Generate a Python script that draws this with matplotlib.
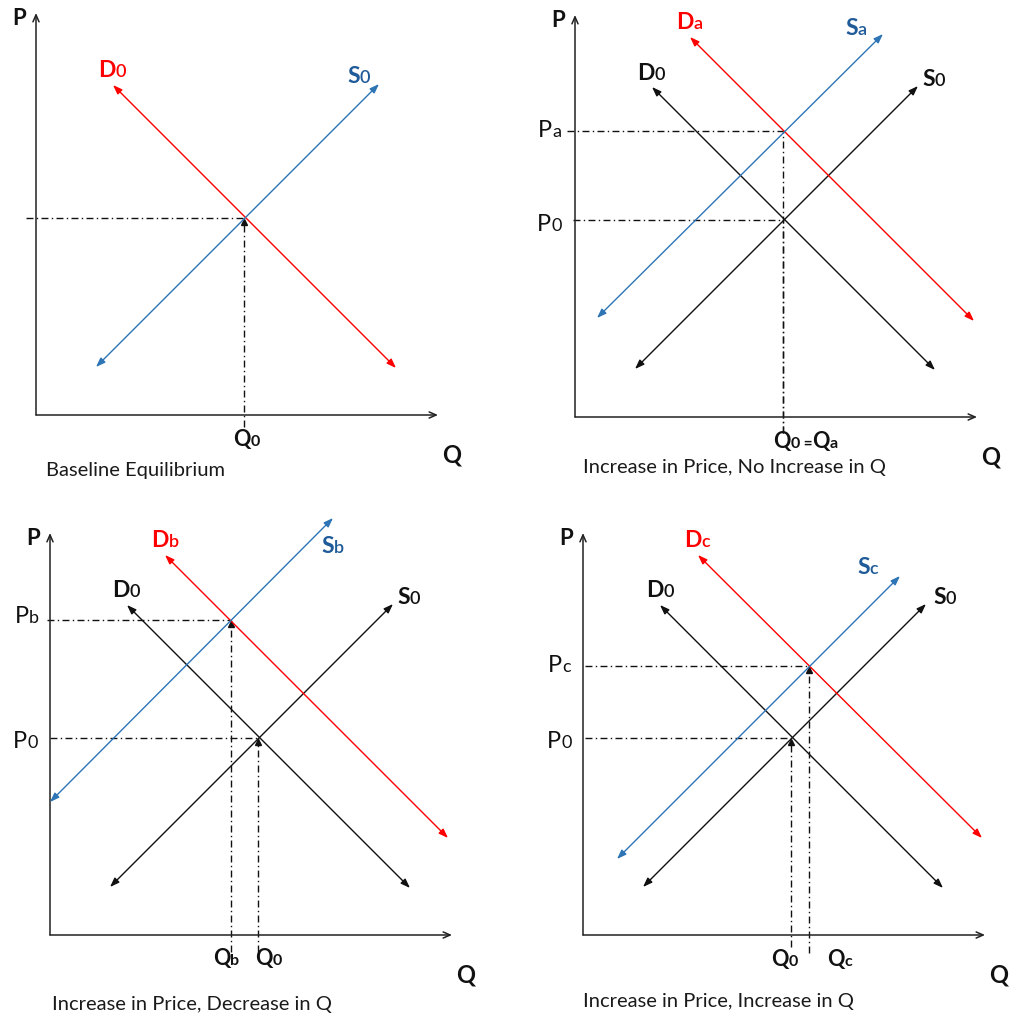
import matplotlib
matplotlib.use("Agg")
import matplotlib.pyplot as plt

plt.rcParams['font.family'] = ['Lato', 'DejaVu Sans']

# Curve endpoints (Q, P) shared by every panel
D0_Q = [77, 360]
D0_P = [330, 47]
S0_Q = [60, 343]
S0_P = [48, 331]

# Shifted curves for panels a, b, c
DA_Q, DA_P = [115, 399], [380, 96]
SA_Q, SA_P = [22, 308], [99, 383]
DB_Q, DB_P = [115, 398], [380, 97]
SB_Q, SB_P = [0, 283], [133, 417]
DC_Q, DC_P = [115, 399], [380, 97]
SC_Q, SC_P = [34, 317], [76, 359]

# Equilibrium points (Q, P)
EQ0 = (208, 197)
EQA = (208, 286)
EQB = (181, 315)
EQC = (226, 269)

AXIS_LEN = 402
RED = '#ff0000'
BLUE = '#2e75b6'
BLUE_TXT = '#1f5a99'
BLACK = '#111111'

W, H, DPI = 1010, 1015, 100
fig = plt.figure(figsize=(W / DPI, H / DPI), dpi=DPI)
renderer = fig.canvas.get_renderer()


def make_panel(ox, oy):
    # ox, oy: pixel position of the origin (from top-left)
    ax = fig.add_axes([ox / W, (H - oy) / H, AXIS_LEN / W, AXIS_LEN / H])
    ax.set_xlim(0, AXIS_LEN)
    ax.set_ylim(0, AXIS_LEN)
    ax.axis('off')
    for end in [(AXIS_LEN, 0), (0, AXIS_LEN)]:
        ax.annotate('', xy=end, xytext=(0, 0), annotation_clip=False,
                    arrowprops=dict(arrowstyle='->,head_length=0.5,head_width=0.22',
                                    color='#222222', lw=1.1, shrinkA=0, shrinkB=0,
                                    mutation_scale=10))
    return ax


def curve(ax, qs, ps, color):
    ax.annotate('', xy=(qs[1], ps[1]), xytext=(qs[0], ps[0]), annotation_clip=False,
                arrowprops=dict(arrowstyle='<|-|>,head_length=0.55,head_width=0.2',
                                color=color, lw=1.0, shrinkA=0, shrinkB=0,
                                mutation_scale=10))


def guides(ax, eq, q_start, p_bottom, head=True):
    q, p = eq
    ax.plot([q_start, q], [p, p], color=BLACK, lw=1.0,
            ls=(0, (5, 2.4, 1, 2.4)), clip_on=False)
    ax.plot([q, q], [p_bottom, p], color=BLACK, lw=1.0,
            ls=(0, (5, 2.4, 1, 2.4)), clip_on=False)
    if head:
        ax.plot([q], [p - 4], marker='^', ms=4, color=BLACK, clip_on=False)


def runs(ax, q, p, parts, color):
    # parts: list of (text, fontsize, weight); drawn left to right on one baseline
    dx = 0.0
    for s, size, weight in parts:
        t = ax.annotate(s, xy=(q, p), xytext=(dx, 0), textcoords='offset points',
                        fontsize=size, fontweight=weight, color=color,
                        ha='left', va='baseline', annotation_clip=False)
        bb = t.get_window_extent(renderer)
        dx += bb.width * 72 / DPI


def curve_label(ax, q, p, main, sub, color):
    runs(ax, q, p, [(main, 16.5, 'bold'), (sub, 13, 'semibold')], color)


def price_label(ax, q, p, sub):
    runs(ax, q, p, [('P', 17, 'normal'), (sub, 13, 'normal')], BLACK)


def qty_label(ax, q, p, sub):
    runs(ax, q, p, [('Q', 15.5, 'bold'), (sub, 11.5, 'bold')], BLACK)


def axis_names(ax, caption, cap_q, cap_p):
    ax.text(-24, 390, 'P', fontsize=16, fontweight='bold', color=BLACK,
            va='baseline', clip_on=False)
    ax.text(406, -48, 'Q', fontsize=17, fontweight='bold', color=BLACK,
            va='baseline', clip_on=False)
    ax.text(cap_q, cap_p, caption, fontsize=14.5, color='#1a1a1a',
            va='baseline', clip_on=False)


# Panel 1: baseline
ax1 = make_panel(36, 415)
curve(ax1, D0_Q, D0_P, RED)
curve(ax1, S0_Q, S0_P, BLUE)
guides(ax1, EQ0, -10, -12)
curve_label(ax1, 62, 338, 'D', '0', RED)
curve_label(ax1, 311, 332, 'S', '0', BLUE_TXT)
qty_label(ax1, 197, -31, '0')
axis_names(ax1, 'Baseline Equilibrium', 10, -61)

# Panel 2: higher price, same quantity
ax2 = make_panel(575, 417)
curve(ax2, D0_Q, D0_P, BLACK)
curve(ax2, S0_Q, S0_P, BLACK)
curve(ax2, DA_Q, DA_P, RED)
curve(ax2, SA_Q, SA_P, BLUE)
guides(ax2, EQA, -8, -16, head=False)
guides(ax2, EQ0, -2, -16, head=False)
curve_label(ax2, 101, 388, 'D', 'a', RED)
curve_label(ax2, 270, 382, 'S', 'a', BLUE_TXT)
curve_label(ax2, 62, 337, 'D', '0', BLACK)
curve_label(ax2, 347, 331, 'S', '0', BLACK)
price_label(ax2, -37, 280, 'a')
price_label(ax2, -38, 186, '0')
runs(ax2, 198, -31, [('Q', 15.5, 'bold'), ('0', 11.5, 'bold'), (' =', 11, 'bold'),
                     ('Q', 15.5, 'bold'), ('a', 11.5, 'bold')], BLACK)
axis_names(ax2, 'Increase in Price, No Increase in Q', 8, -56)

# Panel 3: higher price, lower quantity
ax3 = make_panel(50, 935)
curve(ax3, D0_Q, D0_P, BLACK)
curve(ax3, S0_Q, S0_P, BLACK)
curve(ax3, DB_Q, DB_P, RED)
curve(ax3, SB_Q, SB_P, BLUE)
guides(ax3, EQB, -3, -17)
guides(ax3, EQ0, 0, -17)
curve_label(ax3, 101, 388, 'D', 'b', RED)
curve_label(ax3, 271, 382, 'S', 'b', BLUE_TXT)
curve_label(ax3, 62, 338, 'D', '0', BLACK)
curve_label(ax3, 347, 331, 'S', '0', BLACK)
price_label(ax3, -35, 312, 'b')
price_label(ax3, -37, 187, '0')
qty_label(ax3, 163, -30, 'b')
qty_label(ax3, 205, -30, '0')
axis_names(ax3, 'Increase in Price, Decrease in Q', 2, -75)

# Panel 4: higher price, higher quantity
ax4 = make_panel(583, 935)
curve(ax4, D0_Q, D0_P, BLACK)
curve(ax4, S0_Q, S0_P, BLACK)
curve(ax4, DC_Q, DC_P, RED)
curve(ax4, SC_Q, SC_P, BLUE)
guides(ax4, EQC, 2, -18)
guides(ax4, EQ0, 2, -12)
curve_label(ax4, 101, 388, 'D', 'c', RED)
curve_label(ax4, 274, 361, 'S', 'c', BLUE_TXT)
curve_label(ax4, 63, 338, 'D', '0', BLACK)
curve_label(ax4, 350, 331, 'S', '0', BLACK)
price_label(ax4, -35, 263, 'c')
price_label(ax4, -36, 187, '0')
qty_label(ax4, 188, -31, '0')
qty_label(ax4, 244, -31, 'c')
axis_names(ax4, 'Increase in Price, Increase in Q', 0, -72)

fig.savefig('out.png', dpi=DPI, facecolor='white')
